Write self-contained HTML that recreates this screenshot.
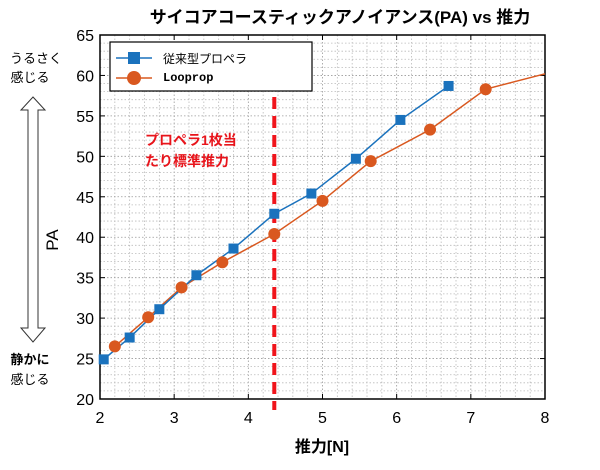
<!DOCTYPE html>
<html><head><meta charset="utf-8"><style>
body{margin:0;background:#fff;}
svg text{font-family:"Liberation Sans","Noto Sans CJK JP",sans-serif;}
</style></head><body>
<svg id="chart" width="600" height="465" xmlns="http://www.w3.org/2000/svg">
<text x="340" y="23" text-anchor="middle" font-size="17" font-weight="bold">サイコアコースティックアノイアンス(PA) vs 推力</text>
<g id="grid"></g>
<g id="axes"></g>
<g id="series"></g>
<text x="58" y="240" font-size="17" text-anchor="middle" transform="rotate(-90 58 240)">PA</text>
<text x="322" y="452" font-size="16" font-weight="bold" text-anchor="middle">推力[N]</text>
<text x="36" y="63" font-size="13" text-anchor="middle">うるさく</text>
<text x="30" y="82" font-size="13" text-anchor="middle">感じる</text>
<polygon points="33,97 45,110 38,110 38,328 45,328 33,342 21,328 28,328 28,110 21,110" fill="#fff" stroke="#333" stroke-width="1"/>
<text x="30" y="364" font-size="13" font-weight="bold" text-anchor="middle">静かに</text>
<text x="30" y="384" font-size="13" text-anchor="middle">感じる</text>
<text x="145" y="145" font-size="14" font-weight="bold" fill="#e8141b">プロペラ1枚当</text>
<text x="145" y="166" font-size="14" font-weight="bold" fill="#e8141b">たり標準推力</text>
<g id="legend">
<rect x="110" y="42" width="202" height="49" fill="#fff" stroke="#000" stroke-width="1.2"/>
<line x1="116" y1="58" x2="152" y2="58" stroke="#1a72bd" stroke-width="1.5"/>
<rect x="128" y="52" width="12" height="12" fill="#1a72bd"/>
<text x="163" y="63" font-size="12">従来型プロペラ</text>
<line x1="116" y1="78" x2="152" y2="78" stroke="#d9581f" stroke-width="1.5"/>
<circle cx="134" cy="78" r="7" fill="#d9581f"/>
<text x="163" y="81" font-size="12" font-weight="bold" style="font-family:'Liberation Mono',monospace">Looprop</text>
</g>
</svg>
<script>
const xTicks=[2,3,4,5,6,7,8];
const yTicks=[20,25,30,35,40,45,50,55,60,65];
const convX=[2.05,2.4,2.8,3.3,3.8,4.35,4.85,5.45,6.05,6.7];
const convY=[24.9,27.6,31.1,35.3,38.6,42.9,45.4,49.7,54.5,58.7];
const loopX=[2.2,2.65,3.1,3.65,4.35,5.0,5.65,6.45,7.2];
const loopY=[26.5,30.1,33.8,36.9,40.4,44.5,49.4,53.3,58.3];
const loopTailX=[7.2,8.0];
const loopTailY=[58.3,60.2];
const standardThrust=[4.35];
const L=100,R=545,T=35,B=399;
const sx=v=>L+(v-2)/6*(R-L);
const sy=v=>B-(v-20)/45*(B-T);
const NS="http://www.w3.org/2000/svg";
function mk(tag,attrs,parent){const e=document.createElementNS(NS,tag);for(const k in attrs)e.setAttribute(k,attrs[k]);parent.appendChild(e);return e;}
const grid=document.getElementById('grid'),axes=document.getElementById('axes'),ser=document.getElementById('series');
for(let i=0;i<=30;i++){const x=sx(2+i*0.2);
 const g=mk('line',{x1:x,x2:x,y1:T,y2:B,stroke:i%5==0?'#999':'#bbb','stroke-width':0.8,'stroke-dasharray':'1.5,2'},grid);
 }
for(let v=20;v<=65;v++){const y=sy(v);
 const g=mk('line',{x1:L,x2:R,y1:y,y2:y,stroke:v%5==0?'#999':'#bbb','stroke-width':0.8,'stroke-dasharray':'1.5,2'},grid);
 }
const box=mk('rect',{x:L,y:T,width:R-L,height:B-T,fill:'none',stroke:'#000','stroke-width':1.5},axes);

xTicks.forEach(v=>{const x=sx(v);
 mk('line',{x1:x,x2:x,y1:B,y2:B-5,stroke:'#000'},axes);mk('line',{x1:x,x2:x,y1:T,y2:T+5,stroke:'#000'},axes);
 const t=mk('text',{x:x,y:B+24,'font-size':16,'text-anchor':'middle'},axes);t.textContent=v;
 });
yTicks.forEach(v=>{const y=sy(v);
 mk('line',{x1:L,x2:L+5,y1:y,y2:y,stroke:'#000'},axes);mk('line',{x1:R,x2:R-5,y1:y,y2:y,stroke:'#000'},axes);
 const t=mk('text',{x:L-6,y:y+6,'font-size':16,'text-anchor':'end'},axes);t.textContent=v;
 });
standardThrust.forEach(v=>{const l=mk('line',{x1:sx(v),x2:sx(v),y1:97,y2:410,stroke:'#f0141b','stroke-width':4,'stroke-dasharray':'12,7'},ser);
 });
const lp=mk('polyline',{points:loopX.map((x,i)=>sx(x)+','+sy(loopY[i])).join(' ')+' '+loopTailX.map((x,i)=>sx(x)+','+sy(loopTailY[i])).join(' '),fill:'none',stroke:'#d9581f','stroke-width':1.5},ser);

const cp=mk('polyline',{points:convX.map((x,i)=>sx(x)+','+sy(convY[i])).join(' '),fill:'none',stroke:'#1a72bd','stroke-width':1.5},ser);

loopX.forEach((x,i)=>{const c=mk('circle',{cx:sx(x),cy:sy(loopY[i]),r:6,fill:'#d9581f'},ser);
 });
convX.forEach((x,i)=>{const r=mk('rect',{x:sx(x)-5,y:sy(convY[i])-5,width:10,height:10,fill:'#1a72bd'},ser);
 });
</script>
</body></html>
